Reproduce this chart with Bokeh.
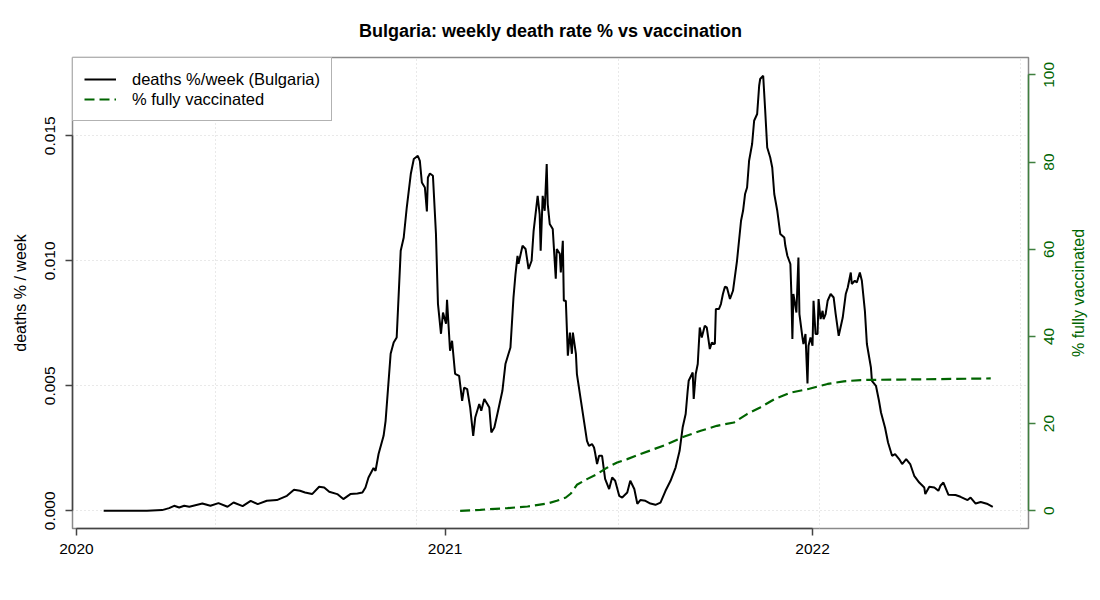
import math
import numpy as np
import pandas as pd
from bokeh.plotting import figure
from bokeh.layouts import row
from bokeh.models import (Range1d, LinearAxis, FixedTicker, DatetimeTickFormatter,
                          PrintfTickFormatter)
from bokeh.core.properties import value
from bokeh.embed import file_html
from bokeh.resources import INLINE

# ---------------- data ----------------
BASE = "2020-01-01"   # day 0 of the day offsets below

death_day = [27, 70, 85, 92, 97, 102, 107, 112, 117, 125, 133, 141, 150, 156, 165, 173, 180, 189,
             199, 209, 216, 222, 227, 234, 241, 246, 251, 259, 265, 272, 279, 284, 287, 290, 295,
             297, 300, 305, 307, 312, 315, 318, 322, 325, 328, 332, 335, 339, 341, 343, 346, 348,
             349, 351, 354, 357, 359, 362, 364, 367, 368, 371, 373, 376, 380, 383, 385, 388, 391,
             394, 396, 400, 402, 405, 408, 410, 412, 415, 418, 423, 426, 429, 431, 434, 436, 438,
             439, 443, 446, 449, 452, 454, 458, 460, 461, 463, 465, 467, 468, 470, 473, 476, 477,
             480, 481, 483, 484, 486, 488, 490, 492, 493, 496, 497, 501, 504, 507, 509, 512, 514,
             515, 517, 519, 522, 525, 529, 532, 535, 539, 542, 547, 550, 554, 557, 560, 565, 570,
             575, 580, 585, 590, 595, 599, 602, 605, 607, 608, 612, 613, 615, 617, 619, 621, 624,
             626, 629, 631, 634, 635, 638, 640, 642, 644, 646, 649, 652, 656, 660, 662, 664, 666,
             668, 671, 673, 676, 678, 679, 682, 684, 686, 689, 691, 693, 696, 699, 703, 704, 706,
             709, 710, 711, 712, 715, 717, 718, 721, 722, 724, 726, 727, 729, 731, 732, 734, 736,
             737, 739, 741, 742, 744, 746, 749, 752, 754, 757, 761, 764, 766, 769, 770, 773, 775,
             778, 780, 783, 785, 787, 789, 790, 794, 797, 799, 803, 806, 810, 813, 817, 820, 824,
             828, 832, 837, 842, 843, 847, 852, 856, 858, 861, 866, 873, 878, 885, 888, 893, 898,
             905, 910]

death_rate = [0.0, 0.0, 0.000028, 0.000108, 0.0002, 0.000132, 0.0002, 0.00016, 0.000212, 0.000292,
              0.0002, 0.000308, 0.00016, 0.000332, 0.000188, 0.0004, 0.000268, 0.0004, 0.000428,
              0.0006, 0.00084, 0.0008, 0.000732, 0.000668, 0.00096, 0.000932, 0.00076, 0.000668,
              0.000468, 0.000668, 0.000692, 0.000732, 0.000932, 0.00133, 0.00171, 0.0016, 0.00227,
              0.0030, 0.0036, 0.00628, 0.00673, 0.00693, 0.0104, 0.01093, 0.01213, 0.01347,
              0.01407, 0.0142, 0.0140, 0.01313, 0.01293, 0.01197, 0.01333, 0.01349, 0.0134,
              0.01108, 0.00828, 0.00708, 0.00793, 0.00748, 0.00844, 0.0064, 0.0068, 0.00548,
              0.0054, 0.0044, 0.00493, 0.00487, 0.00413, 0.0030, 0.00373, 0.00427, 0.0040,
              0.00447, 0.00427, 0.00413, 0.00313, 0.00333, 0.00387, 0.0048, 0.00587, 0.00627,
              0.00653, 0.00853, 0.00947, 0.0102, 0.00988, 0.0106, 0.01047, 0.00967, 0.0100,
              0.0112, 0.0126, 0.01187, 0.0104, 0.0126, 0.0120, 0.01387, 0.01227, 0.01147, 0.01127,
              0.00928, 0.01047, 0.01028, 0.00953, 0.0108, 0.0084, 0.0084, 0.0062, 0.00713,
              0.00628, 0.00713, 0.00628, 0.00547, 0.0044, 0.0036, 0.0028, 0.0026, 0.00267,
              0.00253, 0.00233, 0.00187, 0.0022, 0.0022, 0.00128, 0.00087, 0.00133, 0.0012,
              0.0006, 0.00053, 0.00073, 0.0012, 0.00087, 0.00028, 0.00043, 0.0004, 0.00029,
              0.00024, 0.00033, 0.0008, 0.0012, 0.00173, 0.0024, 0.00333, 0.00387, 0.0048,
              0.0052, 0.00553, 0.00447, 0.00547, 0.00587, 0.00733, 0.00693, 0.0074, 0.00733,
              0.00647, 0.00673, 0.00667, 0.00807, 0.00807, 0.00827, 0.00867, 0.00896, 0.00893,
              0.00847, 0.0088, 0.0100, 0.0116, 0.0120, 0.01267, 0.01293, 0.0140, 0.01467, 0.0156,
              0.01587, 0.0170, 0.01727, 0.0174, 0.0160, 0.01453, 0.01413, 0.01373, 0.01267,
              0.0120, 0.01107, 0.01093, 0.0106, 0.0102, 0.00987, 0.00867, 0.00687, 0.00867,
              0.00793, 0.01013, 0.00787, 0.00693, 0.00667, 0.00707, 0.00509, 0.0066, 0.00693,
              0.0066, 0.0084, 0.00707, 0.00707, 0.00847, 0.00767, 0.0080, 0.00767, 0.00787,
              0.0084, 0.00867, 0.00853, 0.00787, 0.0070, 0.00773, 0.00867, 0.00893, 0.00953,
              0.00907, 0.0092, 0.00913, 0.00953, 0.0092, 0.0080, 0.00667, 0.0062, 0.00573,
              0.0052, 0.0050, 0.0044, 0.00393, 0.00333, 0.00273, 0.0022, 0.00227, 0.00207,
              0.00187, 0.00207, 0.00187, 0.0014, 0.00113, 0.00093, 0.00067, 0.00096, 0.00093,
              0.0008, 0.0010, 0.00113, 0.00064, 0.00063, 0.00056, 0.00043, 0.00053, 0.00029,
              0.00035, 0.00027, 0.00016]

vacc_day = [381, 401, 428, 448, 468, 477, 486, 491, 497, 507, 517, 527, 537, 547, 560, 587, 603,
            620, 636, 653, 666, 679, 693, 709, 726, 746, 762, 779, 795, 818, 908]
vacc_pct = [0.0, 0.23, 0.62, 0.99, 1.68, 2.29, 3.05, 3.97, 5.97, 7.27, 8.42, 9.9, 11.08, 11.86,
            13.0, 15.3, 17.0, 18.36, 19.5, 20.26, 22.19, 23.7, 25.6, 27.1, 27.9, 29.1, 29.7,
            30.0, 30.06, 30.1, 30.36]

year_ticks = ["2020-01-01", "2021-01-01", "2022-01-01"]
left_ticks = [0.0, 0.005, 0.010, 0.015]
right_ticks = [0, 20, 40, 60, 80, 100]
grid_epoch_days = [18400, 18600, 18800, 19000, 19200]   # R default pretty() day positions

TITLE = "Bulgaria: weekly death rate % vs vaccination"
LEFT_LABEL = "deaths % / week"
RIGHT_LABEL = "% fully vaccinated"
FONT = "Liberation Sans"
GREEN = "#006400"

# ---------------- build ----------------
base = pd.Timestamp(BASE)
death_x = base + pd.to_timedelta(np.array(death_day), unit="D")
vacc_x = base + pd.to_timedelta(np.array(vacc_day), unit="D")

MS_DAY = 86400000.0
base_ms = base.value / 1e6
x_start = base_ms - 3.97 * MS_DAY
x_end = base_ms + 945.5 * MS_DAY

y_lo, y_hi = -0.000708, 0.01813
scale_r = 100.0 / 0.017433
vacc_range = Range1d(y_lo * scale_r, y_hi * scale_r)

TOP, BOTTOM, H = 57, 56, 584

p = figure(width=1038, height=H, x_axis_type="datetime",
           x_range=Range1d(x_start, x_end), y_range=Range1d(y_lo, y_hi),
           output_backend="svg", toolbar_location=None,
           min_border_left=72, min_border_right=10, min_border_top=TOP,
           min_border_bottom=BOTTOM, title=TITLE)
p.extra_y_ranges = {"vacc": vacc_range}

p.background_fill_color = "white"
p.border_fill_color = "white"
p.outline_line_color = "#8a8a8a"
p.outline_line_width = 1.5

p.title.text_font = FONT
p.title.text_font_size = "18px"
p.title.text_font_style = "bold"
p.title.text_color = "black"
p.title.align = "center"
p.title.standoff = 33

# grids
p.xgrid.ticker = FixedTicker(ticks=[d * MS_DAY for d in grid_epoch_days])
p.ygrid.ticker = FixedTicker(ticks=left_ticks)
for g in (p.xgrid, p.ygrid):
    g.grid_line_color = "#d3d3d3"
    g.grid_line_dash = "1 3"
    g.grid_line_width = 1

# bottom axis
year_ms = [pd.Timestamp(t).value / 1e6 for t in year_ticks]
xa = p.xaxis[0]
xa.ticker = FixedTicker(ticks=year_ms)
xa.formatter = DatetimeTickFormatter(years="%Y", months="%Y", days="%Y", hours="%Y",
                                     minutes="%Y", seconds="%Y", milliseconds="%Y",
                                     microseconds="%Y", hourmin="%Y", minsec="%Y")
xa.bounds = (year_ms[0], year_ms[-1])

# left axis
ya = p.yaxis[0]
ya.ticker = FixedTicker(ticks=left_ticks)
ya.formatter = PrintfTickFormatter(format="%.3f")
ya.bounds = (left_ticks[0], left_ticks[-1])
ya.major_label_orientation = "vertical"
ya.axis_label = LEFT_LABEL

for ax in (xa, ya):
    ax.axis_line_color = "#444444"
    ax.axis_line_width = 1.5
    ax.major_tick_line_color = "#444444"
    ax.major_tick_line_width = 1.5
    ax.major_tick_out = 7
    ax.major_tick_in = 0
    ax.minor_tick_line_color = None
    ax.major_label_text_font = FONT
    ax.major_label_text_font_size = "15.5px"
    ax.major_label_text_color = "black"
    ax.axis_label_text_font = FONT
    ax.axis_label_text_font_size = "16px"
    ax.axis_label_text_font_style = "normal"
    ax.axis_label_text_color = "black"
xa.major_label_standoff = 8
ya.major_label_standoff = 10
ya.axis_label_standoff = 14

# right axis: line and ticks here; its labels are in the side panel figure below
ra = LinearAxis(y_range_name="vacc", ticker=FixedTicker(ticks=right_ticks),
                bounds=(right_ticks[0], right_ticks[-1]))
ra.axis_line_color = "#3f7f3f"
ra.axis_line_width = 1.5
ra.major_tick_line_color = "#3f7f3f"
ra.major_tick_line_width = 1.5
ra.major_tick_out = 7
ra.major_tick_in = 0
ra.minor_tick_line_color = None
ra.major_label_standoff = 0
ra.major_label_overrides = {v: "" for v in right_ticks}
p.add_layout(ra, "right")

# series
p.line(death_x, death_rate, line_color="black", line_width=2,
       legend_label="deaths %/week (Bulgaria)")
p.line(vacc_x, vacc_pct, y_range_name="vacc", line_color=GREEN, line_width=2.2,
       line_dash="10 5", legend_label="% fully vaccinated")

lg = p.legend[0]
lg.location = "top_left"
lg.margin = 0
lg.padding = 11
lg.spacing = 0
lg.glyph_width = 32
lg.glyph_height = 20
lg.label_height = 20
lg.label_standoff = 16
lg.label_text_font = FONT
lg.label_text_font_size = "16.5px"
lg.label_text_color = "black"
lg.border_line_color = "#666666"
lg.border_line_width = 1
lg.background_fill_color = "white"
lg.background_fill_alpha = 1.0

# side panel: right-axis tick labels and title, reading bottom-to-top like R
PW = 54
side = figure(width=PW, height=H, x_range=Range1d(0, PW), y_range=vacc_range,
              output_backend="svg", toolbar_location=None,
              x_axis_location=None, y_axis_location=None,
              min_border_left=0, min_border_right=0, min_border_top=TOP,
              min_border_bottom=BOTTOM)
side.grid.visible = False
side.outline_line_color = None
side.background_fill_color = "white"
side.border_fill_color = "white"
side.text(x=[10] * len(right_ticks), y=right_ticks, text=[str(v) for v in right_ticks],
          angle=math.pi / 2, text_align="center", text_baseline="middle",
          text_font=value(FONT), text_font_size="15.5px", text_color=GREEN)
side.text(x=[40], y=[(vacc_range.start + vacc_range.end) / 2], text=[RIGHT_LABEL],
          angle=math.pi / 2, text_align="center", text_baseline="middle",
          text_font=value(FONT), text_font_size="16px", text_color=GREEN)

layout = row(p, side, spacing=0)
open("out.html", "w").write(file_html(layout, INLINE))
